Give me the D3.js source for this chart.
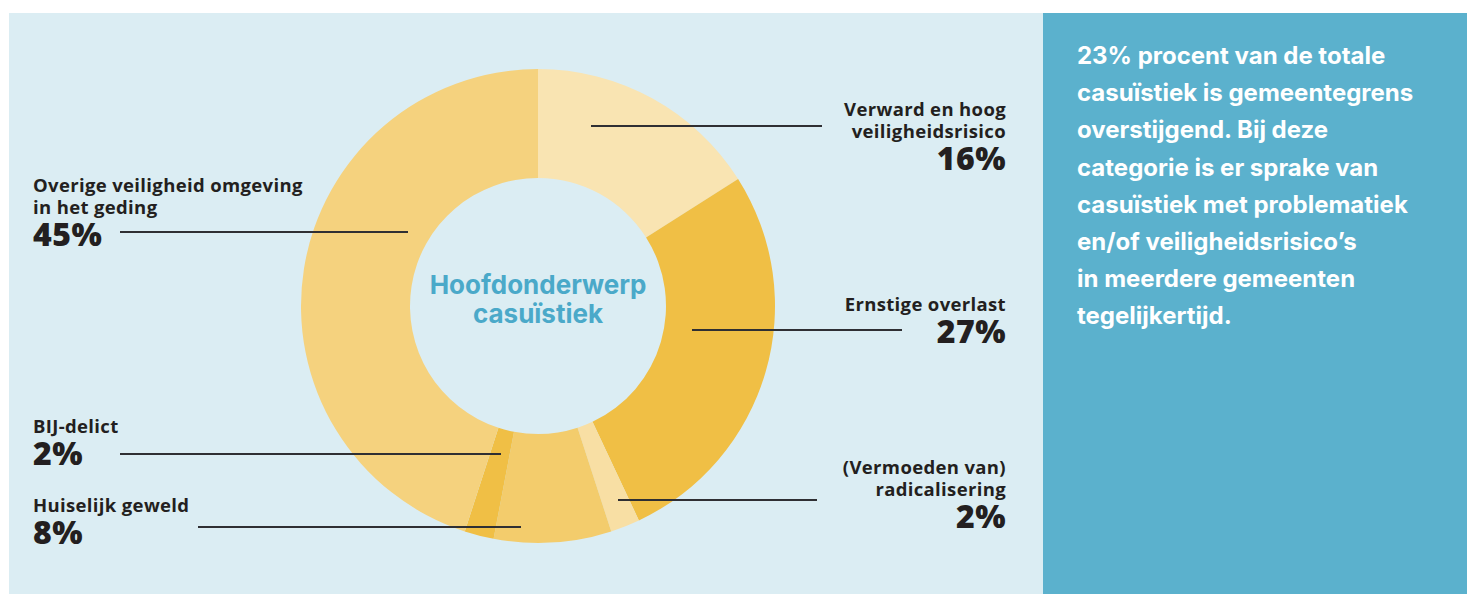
<!DOCTYPE html>
<html><head><meta charset="utf-8">
<script src="https://cdn.jsdelivr.net/npm/d3@7"></script>
<style>
html,body{margin:0;padding:0;background:#fff;}
svg{display:block;}
</style></head>
<body>
<svg id="chart" width="1467" height="594"></svg>
<script>
// ---- data ----
const categories = ["Verward en hoog veiligheidsrisico", "Ernstige overlast", "(Vermoeden van) radicalisering", "Huiselijk geweld", "BIJ-delict", "Overige veiligheid omgeving in het geding"];
const values = [16, 27, 2, 8, 2, 45];
const labelLines = [["Verward en hoog", "veiligheidsrisico"], ["Ernstige overlast"], ["(Vermoeden van)", "radicalisering"], ["Huiselijk geweld"], ["BIJ-delict"], ["Overige veiligheid omgeving", "in het geding"]];
const centerTitle = ["Hoofdonderwerp", "casuïstiek"];
const sideText = ["23% procent van de totale", "casuïstiek is gemeentegrens", "overstijgend. Bij deze", "categorie is er sprake van", "casuïstiek met problematiek", "en/of veiligheidsrisico’s", "in meerdere gemeenten", "tegelijkertijd."];

// ---- styles / layout ----
const colors = ["#f9e4b2", "#f0bf45", "#f8dfa4", "#f3cc6c", "#f0bf45", "#f5d27e"];
const layout = [
  {side:"right", x:1006, y:116, lineY:126, x1:591, x2:822},
  {side:"right", x:1006, y:311, lineY:330, x1:692, x2:902},
  {side:"right", x:1006, y:474, lineY:500, x1:618, x2:817},
  {side:"left",  x:33,   y:512, lineY:527, x1:198, x2:521},
  {side:"left",  x:33,   y:433, lineY:454, x1:120, x2:501},
  {side:"left",  x:33,   y:192, lineY:232, x1:120, x2:408}
];

const svg = d3.select("#chart");
svg.append("rect").attr("x",9).attr("y",13).attr("width",1034).attr("height",581).attr("fill","#dbedf3");
svg.append("rect").attr("x",1043).attr("y",13).attr("width",424).attr("height",581).attr("fill","#5bb1cd");

const cx = 538, cy = 306, rOuter = 237, rInner = 128;
const pie = d3.pie().sort(null).value(d => d)(values);
const arc = d3.arc().innerRadius(rInner).outerRadius(rOuter);
const g = svg.append("g").attr("transform", `translate(${cx},${cy})`);
g.selectAll("path").data(pie).join("path").attr("d", arc).attr("fill", (d,i) => colors[i]);

// center title
svg.append("text").attr("x", cx).attr("y", 294).attr("text-anchor","middle")
  .attr("font-family","Inter, sans-serif").attr("font-weight",700).attr("font-size",26).attr("fill","#4aa9c9")
  .selectAll("tspan").data(centerTitle).join("tspan").attr("x",cx).attr("dy",(d,i)=> i? 29:0).text(d=>d);

// labels
layout.forEach((L,i) => {
  svg.append("line").attr("x1",L.x1).attr("x2",L.x2).attr("y1",L.lineY).attr("y2",L.lineY)
    .attr("stroke","#2f2f33").attr("stroke-width",2);
  const anchor = L.side === "right" ? "end" : "start";
  const t = svg.append("text").attr("text-anchor", anchor).attr("font-family","'Open Sans', sans-serif")
    .attr("font-weight",700).attr("font-size",18.5).attr("letter-spacing",0.35).attr("fill","#231f20");
  labelLines[i].forEach((ln,j) => {
    t.append("tspan").attr("x",L.x).attr("y",L.y + j*22).text(ln);
  });
  svg.append("text").attr("text-anchor",anchor).attr("x",L.x).attr("y",L.y + (labelLines[i].length-1)*22 + 32)
    .attr("font-family","'Open Sans', sans-serif").attr("font-weight",800).attr("font-size",32).attr("letter-spacing",0.5)
    .attr("fill","#231f20").text(values[i] + "%");
});

// side text
svg.append("text").attr("font-family","Inter, sans-serif").attr("font-weight",700).attr("font-size",24).attr("fill","#ffffff")
  .selectAll("tspan").data(sideText).join("tspan").attr("x",1077).attr("y",(d,i)=>64 + i*37.2).text(d=>d);
</script>
</body></html>
